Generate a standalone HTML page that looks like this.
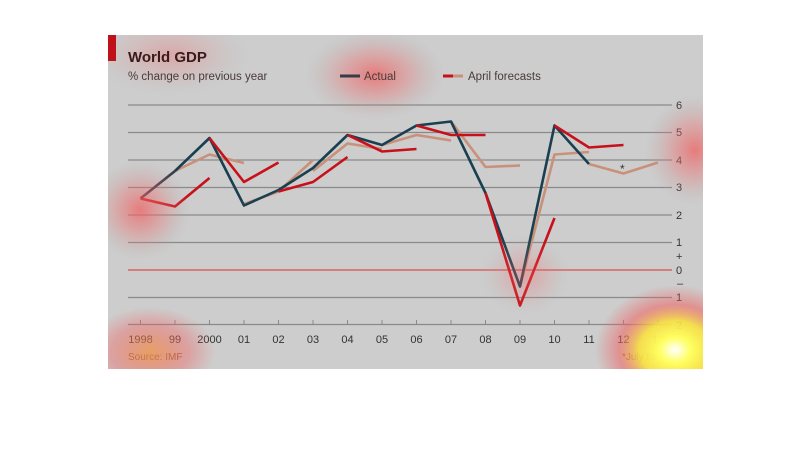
<!DOCTYPE html>
<html><head><meta charset="utf-8"><style>
body{margin:0;background:#fff;}
svg{display:block;font-family:"Liberation Sans",sans-serif;}
</style></head><body>
<svg width="810" height="464" viewBox="0 0 810 464">
<defs>
<radialGradient id="r"><stop offset="0" stop-color="#f06060" stop-opacity="0.75"/><stop offset="0.5" stop-color="#e87070" stop-opacity="0.35"/><stop offset="1" stop-color="#b0a0a0" stop-opacity="0"/></radialGradient>
<radialGradient id="y"><stop offset="0" stop-color="#ffffff"/><stop offset="0.2" stop-color="#ffff60"/><stop offset="0.45" stop-color="#f8e040" stop-opacity="0.9"/><stop offset="0.7" stop-color="#f06060" stop-opacity="0.55"/><stop offset="1" stop-color="#f06060" stop-opacity="0"/></radialGradient>
<radialGradient id="o"><stop offset="0" stop-color="#f09040" stop-opacity="0.75"/><stop offset="0.6" stop-color="#f06060" stop-opacity="0.4"/><stop offset="1" stop-color="#f06060" stop-opacity="0"/></radialGradient>
<clipPath id="c"><rect x="108" y="35" width="595" height="334"/></clipPath>
</defs>
<rect x="108" y="35" width="595" height="334" fill="#cdcdcd"/>
<g clip-path="url(#c)">
<ellipse cx="170" cy="55" rx="80" ry="40" fill="url(#r)" opacity="0.45"/>
<ellipse cx="375" cy="75" rx="70" ry="45" fill="url(#r)"/>
</g>
<rect x="108" y="35" width="8" height="26" fill="#c0101a"/>
<text x="128" y="62" font-size="15" font-weight="bold" fill="#3a1a1a">World GDP</text>
<text x="128" y="80" font-size="11.5" fill="#4a3a3a">% change on previous year</text>
<line x1="340" y1="76" x2="360" y2="76" stroke="#3a3a48" stroke-width="3"/>
<text x="364" y="80" font-size="11.5" fill="#4a3a3a">Actual</text>
<line x1="443" y1="76" x2="453" y2="76" stroke="#c8101a" stroke-width="3"/>
<line x1="453" y1="76" x2="463" y2="76" stroke="#c9907a" stroke-width="3"/>
<text x="468" y="80" font-size="11.5" fill="#4a3a3a">April forecasts</text>
<g stroke="#8a8a8a" stroke-width="1.2">
<line x1="128" y1="105" x2="672" y2="105"/><line x1="128" y1="132.5" x2="672" y2="132.5"/>
<line x1="128" y1="160" x2="672" y2="160"/><line x1="128" y1="187.5" x2="672" y2="187.5"/>
<line x1="128" y1="215" x2="672" y2="215"/><line x1="128" y1="242.5" x2="672" y2="242.5"/>
<line x1="128" y1="297.5" x2="672" y2="297.5"/><line x1="128" y1="324.5" x2="672" y2="324.5"/>
</g>
<line x1="128" y1="270" x2="672" y2="270" stroke="#d85050" stroke-width="1.2"/>
<g stroke="#8a8a8a" stroke-width="1">
<line x1="140.5" y1="320" x2="140.5" y2="325"/><line x1="175" y1="320" x2="175" y2="325"/><line x1="209.5" y1="320" x2="209.5" y2="325"/><line x1="244" y1="320" x2="244" y2="325"/><line x1="278.5" y1="320" x2="278.5" y2="325"/><line x1="313" y1="320" x2="313" y2="325"/><line x1="347.5" y1="320" x2="347.5" y2="325"/><line x1="382" y1="320" x2="382" y2="325"/><line x1="416.5" y1="320" x2="416.5" y2="325"/><line x1="451" y1="320" x2="451" y2="325"/><line x1="485.5" y1="320" x2="485.5" y2="325"/><line x1="520" y1="320" x2="520" y2="325"/><line x1="554.5" y1="320" x2="554.5" y2="325"/><line x1="589" y1="320" x2="589" y2="325"/><line x1="623.5" y1="320" x2="623.5" y2="325"/><line x1="658" y1="320" x2="658" y2="325"/>
</g>
<g font-size="11" fill="#333">
<text x="676" y="109">6</text><text x="676" y="136">5</text><text x="676" y="164">4</text><text x="676" y="191">3</text><text x="676" y="219">2</text><text x="676" y="246">1</text><text x="676" y="260">+</text><text x="676" y="274">0</text><text x="677" y="287">–</text><text x="676" y="301">1</text><text x="676" y="329">2</text>
</g>
<g font-size="11" fill="#333" text-anchor="middle">
<text x="140.5" y="343">1998</text><text x="175" y="343">99</text><text x="209.5" y="343">2000</text><text x="244" y="343">01</text><text x="278.5" y="343">02</text><text x="313" y="343">03</text><text x="347.5" y="343">04</text><text x="382" y="343">05</text><text x="416.5" y="343">06</text><text x="451" y="343">07</text><text x="485.5" y="343">08</text><text x="520" y="343">09</text><text x="554.5" y="343">10</text><text x="589" y="343">11</text><text x="623.5" y="343">12</text><text x="658" y="343">13</text>
</g>
<text x="128" y="360" font-size="10" fill="#8a5a3a">Source: IMF</text>
<text x="622" y="360" font-size="10" fill="#8a5a3a">*July forecast</text>
<text x="620" y="173" font-size="12" fill="#333">*</text>
<g fill="none" stroke-width="2.6" stroke-linejoin="round">
<g stroke="#c9907a">
<polyline points="175,171 209.5,154.5 244,163"/>
<polyline points="244,204 278.5,191.5 313,160"/>
<polyline points="313,171 347.5,143.5 382,149"/>
<polyline points="382,145 416.5,135 451,140.5"/>
<polyline points="451,121.5 485.5,167 520,165.5"/>
<polyline points="520,286.5 554.5,154.5 589,152"/>
<polyline points="589,164 623.5,173.5 658,162.5"/>
</g>
<polyline stroke="#3a3a48" points="140.5,198.5 175,171"/>
<polyline stroke="#1a4050" points="175,171 209.5,138 244,205.5 278.5,190 313,168 347.5,135 382,145 416.5,125.5 451,121.5 485.5,193 520,286.5 554.5,125.5 589,164"/>
<g stroke="#c8101a">
<polyline points="140.5,198.5 175,206.5 209.5,178"/>
<polyline points="209.5,138 244,182 278.5,162.5"/>
<polyline points="278.5,191.5 313,182 347.5,157"/>
<polyline points="347.5,135 382,151.5 416.5,149"/>
<polyline points="416.5,125.5 451,135 485.5,135"/>
<polyline points="485.5,193 520,305.5 554.5,218"/>
<polyline points="554.5,125.5 589,147.5 623.5,145"/>
</g>
</g>
<g clip-path="url(#c)">
<ellipse cx="140" cy="210" rx="50" ry="50" fill="url(#r)"/>
<ellipse cx="695" cy="150" rx="50" ry="55" fill="url(#r)"/>
<ellipse cx="150" cy="352" rx="65" ry="45" fill="url(#o)"/>
<ellipse cx="525" cy="275" rx="45" ry="40" fill="url(#r)" opacity="0.5"/>
<ellipse cx="675" cy="350" rx="80" ry="65" fill="url(#y)"/>
</g>
</svg>
</body></html>
